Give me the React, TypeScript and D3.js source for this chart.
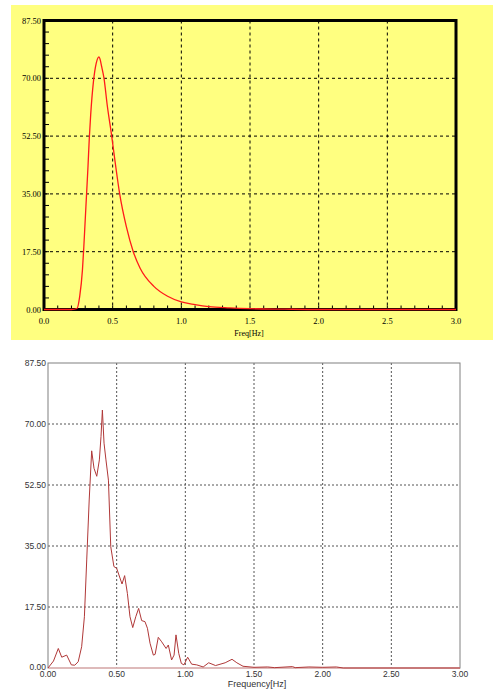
import React, { useEffect, useRef } from 'react';
import * as d3 from 'd3';

// Top chart: smoothed spectrum (Freq[Hz] vs amplitude)
const topFreq = [0, 0.2, 0.24, 0.26, 0.28, 0.29, 0.3, 0.31, 0.32, 0.33, 0.34, 0.36, 0.38, 0.4, 0.41, 0.42, 0.437, 0.46, 0.493, 0.52, 0.551, 0.6, 0.65, 0.7, 0.8, 0.9, 1.0, 1.1, 1.2, 1.35, 1.5, 1.75, 2.0, 3.0];
const topAmp = [0, 0, 0.3, 4, 12, 19, 27, 35, 43, 52, 59, 69, 74.5, 76.5, 75.5, 73.5, 70, 62, 52.5, 44, 35, 25, 17.5, 12.5, 7, 4, 2.3, 1.5, 0.9, 0.5, 0.25, 0.1, 0, 0];

// Bottom chart: raw spectrum (Frequency[Hz] vs amplitude)
const botFreq = [0, 0.04, 0.075, 0.1, 0.136, 0.17, 0.195, 0.22, 0.245, 0.265, 0.282, 0.3, 0.318, 0.335, 0.355, 0.374, 0.386, 0.396, 0.408, 0.422, 0.44, 0.457, 0.48, 0.5, 0.539, 0.558, 0.578, 0.597, 0.617, 0.639, 0.66, 0.682, 0.706, 0.724, 0.743, 0.767, 0.78, 0.803, 0.828, 0.86, 0.876, 0.9, 0.918, 0.932, 0.952, 0.971, 0.99, 1.017, 1.046, 1.083, 1.13, 1.17, 1.22, 1.29, 1.34, 1.375, 1.42, 1.5, 1.6, 1.65, 1.78, 1.8, 1.9, 2.0, 2.1, 2.15, 3.0];
const botAmp = [0, 2, 5.6, 3.1, 3.7, 0.9, 0.8, 1.8, 6.1, 14.7, 31, 48.2, 62.3, 57.3, 55, 59.7, 66.4, 74, 64.5, 59.7, 53.9, 34.8, 29.1, 28.6, 24.1, 26.5, 21.4, 14.7, 11.6, 14.7, 17.1, 13.6, 13.3, 11.4, 7.1, 3.7, 3.9, 8.8, 7.5, 5.6, 6.6, 2.3, 3.7, 9.5, 4.2, 1.3, 0.9, 3.1, 1.1, 0.9, 0.3, 1.5, 0.7, 1.5, 2.5, 1.5, 0.5, 0.2, 0.3, 0.1, 0.4, 0.1, 0.3, 0.2, 0.3, 0, 0];

const yTicks = [0, 17.5, 35, 52.5, 70, 87.5];
const xTicks = [0, 0.5, 1.0, 1.5, 2.0, 2.5, 3.0];

const serif = 'Liberation Serif, serif';
const sans = 'Liberation Sans, Arial, sans-serif';

const App = () => {
  const ref = useRef<SVGSVGElement>(null);

  useEffect(() => {
    const svg = d3.select(ref.current);
    svg.selectAll('*').remove();

    // ---------- top chart ----------
    const top = svg.append('g');
    top.append('rect').attr('x', 11).attr('y', 5).attr('width', 482).attr('height', 335).attr('fill', '#ffff80');

    const x1 = d3.scaleLinear().domain([0, 3]).range([44, 456]);
    const y1 = d3.scaleLinear().domain([0, 87.5]).range([309.5, 20.5]);

    // grid
    top.selectAll('.gx').data(xTicks.slice(1, -1)).join('line')
      .attr('x1', d => x1(d)).attr('x2', d => x1(d))
      .attr('y1', y1(87.5)).attr('y2', y1(0))
      .attr('stroke', '#000').attr('stroke-dasharray', '3,3');
    top.selectAll('.gy').data(yTicks.slice(1, -1)).join('line')
      .attr('x1', x1(0)).attr('x2', x1(3))
      .attr('y1', d => y1(d)).attr('y2', d => y1(d))
      .attr('stroke', '#000').attr('stroke-dasharray', '3,3');

    // minor ticks
    top.selectAll('.my').data(d3.range(1, 25)).join('line')
      .attr('x1', x1(0)).attr('x2', x1(0) + 5)
      .attr('y1', d => y1(d * 3.5)).attr('y2', d => y1(d * 3.5))
      .attr('stroke', '#000');
    top.selectAll('.mx').data(d3.range(1, 30)).join('line')
      .attr('x1', d => x1(d * 0.1)).attr('x2', d => x1(d * 0.1))
      .attr('y1', y1(0)).attr('y2', y1(0) - 4)
      .attr('stroke', '#000');

    top.append('rect')
      .attr('x', x1(0)).attr('y', y1(87.5))
      .attr('width', x1(3) - x1(0)).attr('height', y1(0) - y1(87.5))
      .attr('fill', 'none').attr('stroke', '#000').attr('stroke-width', 3);

    const lineTop = d3.line<number>()
      .x((_, i) => x1(topFreq[i]))
      .y(d => y1(d))
      .curve(d3.curveMonotoneX);
    top.append('path').datum(topAmp)
      .attr('d', lineTop)
      .attr('fill', 'none').attr('stroke', '#ff1a1a').attr('stroke-width', 1.3);

    top.selectAll('.yl').data(yTicks).join('text')
      .attr('x', 41).attr('y', d => y1(d) + 3)
      .attr('text-anchor', 'end')
      .attr('font-family', serif).attr('font-size', 8.5)
      .attr('fill', '#000')
      .text(d => d.toFixed(2));
    top.selectAll('.xl').data(xTicks).join('text')
      .attr('x', d => x1(d)).attr('y', 324)
      .attr('text-anchor', 'middle')
      .attr('font-family', serif).attr('font-size', 8.5)
      .attr('fill', '#000')
      .text(d => d.toFixed(1));
    top.append('text')
      .attr('x', 249).attr('y', 336)
      .attr('text-anchor', 'middle')
      .attr('font-family', serif).attr('font-size', 8)
      .text('Freq[Hz]');

    // ---------- bottom chart ----------
    const bot = svg.append('g');
    const x2 = d3.scaleLinear().domain([0, 3]).range([48, 460]);
    const y2 = d3.scaleLinear().domain([0, 87.5]).range([668, 363]);

    bot.selectAll('.gx').data(xTicks.slice(1, -1)).join('line')
      .attr('x1', d => x2(d)).attr('x2', d => x2(d))
      .attr('y1', y2(87.5)).attr('y2', y2(0))
      .attr('stroke', '#555').attr('stroke-dasharray', '2,2');
    bot.selectAll('.gy').data(yTicks.slice(1, -1)).join('line')
      .attr('x1', x2(0)).attr('x2', x2(3))
      .attr('y1', d => y2(d)).attr('y2', d => y2(d))
      .attr('stroke', '#555').attr('stroke-dasharray', '2,2');

    bot.append('rect')
      .attr('x', x2(0)).attr('y', y2(87.5))
      .attr('width', x2(3) - x2(0)).attr('height', y2(0) - y2(87.5))
      .attr('fill', 'none').attr('stroke', '#808080').attr('stroke-width', 1);
    bot.append('line')
      .attr('x1', x2(0)).attr('x2', x2(3)).attr('y1', y2(0)).attr('y2', y2(0))
      .attr('stroke', '#e8b8b8').attr('stroke-width', 1.5);

    const lineBot = d3.line<number>()
      .x((_, i) => x2(botFreq[i]))
      .y(d => y2(d));
    bot.append('path').datum(botAmp)
      .attr('d', lineBot)
      .attr('fill', 'none').attr('stroke', '#b03838').attr('stroke-width', 1);

    bot.selectAll('.yl').data(yTicks).join('text')
      .attr('x', 46).attr('y', d => y2(d) + (d === 0 ? 2 : 3))
      .attr('text-anchor', 'end')
      .attr('font-family', sans).attr('font-size', 8.5)
      .attr('fill', '#333')
      .text(d => d.toFixed(2));
    bot.selectAll('.xl').data(xTicks).join('text')
      .attr('x', d => x2(d)).attr('y', 677)
      .attr('text-anchor', 'middle')
      .attr('font-family', sans).attr('font-size', 8.5)
      .attr('fill', '#333')
      .text(d => d.toFixed(2));
    bot.append('text')
      .attr('x', 257).attr('y', 687)
      .attr('text-anchor', 'middle')
      .attr('font-family', sans).attr('font-size', 9)
      .attr('fill', '#333')
      .text('Frequency[Hz]');
  }, []);

  return (
    <svg
      ref={ref}
      width={493}
      height={689}
      style={{ position: 'absolute', left: 0, top: 0, background: '#fff' }}
    />
  );
};

export default App;
